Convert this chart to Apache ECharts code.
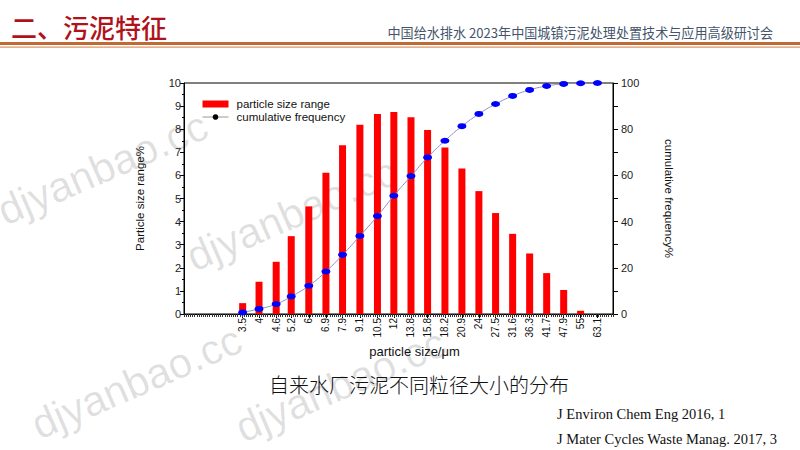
<!DOCTYPE html>
<html>
<head>
<meta charset="utf-8">
<script src="https://cdn.jsdelivr.net/npm/echarts@6/dist/echarts.min.js"></script>
<style>
  html, body { margin: 0; padding: 0; background: #fff; }
  #main { width: 800px; height: 450px; }
</style>
</head>
<body>
<div id="main"></div>
<script>
// particle size bins (um) as printed under the x axis
var sizes = [3.5, 4, 4.6, 5.2, 6, 6.9, 7.9, 9.1, 10.5, 12, 13.8, 15.8, 18.2, 20.9, 24, 27.5, 31.6, 36.3, 41.7, 47.9, 55, 63.1];
// particle size range %, one bar per bin (no bar at 63.1)
var rangePct = [0.47, 1.40, 2.26, 3.37, 4.66, 6.12, 7.31, 8.19, 8.66, 8.75, 8.52, 7.97, 7.21, 6.30, 5.32, 4.37, 3.47, 2.62, 1.77, 1.04, 0.14];
// cumulative frequency %
var cumPct = [0.7, 2.2, 4.3, 7.6, 12.2, 18.4, 25.6, 33.8, 42.4, 51.2, 59.7, 67.8, 75.0, 81.3, 86.6, 90.9, 94.4, 97.0, 98.7, 99.6, 99.9, 100];
var leftTicks = [0, 1, 2, 3, 4, 5, 6, 7, 8, 9, 10];
var rightTicks = [0, 20, 40, 60, 80, 100];

var barData = [];
for (var i = 0; i < rangePct.length; i++) {
    barData.push([sizes[i], rangePct[i]]);
}
var lineData = [];
for (var j = 0; j < cumPct.length; j++) {
    lineData.push([sizes[j], cumPct[j]]);
}

var chart = echarts.init(document.getElementById('main'), null, {renderer: 'svg'});

var axisFont = 'Liberation Sans, Arial, sans-serif';
var cjkFont = '"Noto Sans CJK SC", sans-serif';

function watermark(x, y) {
    return {
        type: 'text',
        x: x,
        y: y,
        rotation: 0.41,
        z: -10,
        silent: true,
        style: {
            text: 'djyanbao.cc',
            fontSize: 42,
            fontFamily: axisFont,
            fill: 'rgba(0,0,0,0.12)',
            textAlign: 'left',
            textVerticalAlign: 'bottom'
        }
    };
}

chart.setOption({
    backgroundColor: '#fff',
    animation: false,
    title: [
        {
            text: '二、污泥特征',
            left: 6, top: 8,
            textStyle: {color: '#b0121b', fontSize: 26, fontWeight: 500, fontFamily: cjkFont}
        },
        {
            text: '中国给水排水 2023年中国城镇污泥处理处置技术与应用高级研讨会',
            right: 22, top: 21,
            textStyle: {color: '#44546a', fontSize: 13.1, fontWeight: 'normal', fontFamily: cjkFont}
        },
        {
            text: '自来水厂污泥不同粒径大小的分布',
            left: 264, top: 369,
            textStyle: {color: '#111', fontSize: 20, fontWeight: 300, fontFamily: cjkFont}
        },
        {
            text: 'J Environ Chem Eng 2016, 1\nJ Mater Cycles Waste Manag. 2017, 3',
            left: 552, top: 396,
            textStyle: {color: '#111', fontSize: 14.5, fontWeight: 'normal', lineHeight: 25, fontFamily: 'Liberation Serif, serif'}
        }
    ],
    graphic: [
        {type: 'rect', shape: {x: 0, y: 42, width: 800, height: 3}, style: {fill: '#bf6a33'}},
        {type: 'rect', shape: {x: 0, y: 46.5, width: 800, height: 1.2}, style: {fill: '#d9956b'}},
        watermark(8, 232),
        watermark(197, 278),
        watermark(42, 446),
        watermark(246, 449)
    ],
    legend: {
        orient: 'vertical',
        left: 197,
        top: 93,
        itemWidth: 26,
        itemHeight: 7,
        itemGap: 1,
        textStyle: {fontSize: 11.5, color: '#111', fontFamily: axisFont, padding: [0, 0, 0, 3]},
        data: [
            {name: 'particle size range', icon: 'rect'},
            {name: 'cumulative frequency', itemStyle: {color: '#000'}, lineStyle: {color: '#999', width: 1}}
        ]
    },
    grid: {
        left: 184, right: 187, top: 83, bottom: 136,
        show: true,
        borderColor: '#000',
        borderWidth: 1,
        containLabel: false
    },
    xAxis: [
        {
            type: 'log',
            logBase: 10,
            min: 2.17,
            max: 71.6,
            name: 'particle size/\u03bcm',
            nameLocation: 'middle',
            nameGap: 24,
            nameTextStyle: {fontSize: 13, color: '#111', fontFamily: axisFont, padding: [0, 0, 0, 32]},
            axisLine: {lineStyle: {color: '#000', width: 1}},
            axisTick: {show: true, customValues: sizes, length: 4, lineStyle: {color: '#000'}},
            axisLabel: {
                customValues: sizes,
                rotate: 90,
                fontSize: 10,
                color: '#111',
                fontFamily: axisFont,
                margin: 4,
                formatter: function (v) { return String(v); }
            },
            splitLine: {show: false},
            minorTick: {show: false}
        },
        {
            // dense hatch of small ticks along the bottom axis
            type: 'value',
            position: 'bottom',
            min: 0,
            max: 200,
            interval: 1,
            axisLine: {show: false},
            axisTick: {show: true, length: 3, lineStyle: {color: '#333', width: 1}},
            axisLabel: {show: false},
            splitLine: {show: false}
        }
    ],
    yAxis: [
        {
            type: 'value',
            min: 0,
            max: 10,
            interval: 1,
            name: 'Particle size range%',
            nameLocation: 'middle',
            nameGap: 38,
            nameTextStyle: {fontSize: 11.5, color: '#111', fontFamily: axisFont},
            axisLine: {show: true, lineStyle: {color: '#000', width: 1}},
            axisTick: {show: true, length: 4, lineStyle: {color: '#000'}},
            minorTick: {show: true, splitNumber: 2, length: 2, lineStyle: {color: '#000'}},
            axisLabel: {
                fontSize: 11, color: '#222', fontFamily: axisFont, margin: 3,
                customValues: leftTicks
            },
            splitLine: {show: false}
        },
        {
            type: 'value',
            position: 'right',
            min: 0,
            max: 100,
            interval: 20,
            name: 'cumulative frequency%',
            nameLocation: 'middle',
            nameRotate: -90,
            nameGap: 50,
            nameTextStyle: {fontSize: 11.5, color: '#111', fontFamily: axisFont},
            axisLine: {show: true, lineStyle: {color: '#000', width: 1}},
            axisTick: {show: true, length: 5, lineStyle: {color: '#000'}},
            minorTick: {show: true, splitNumber: 2, length: 5, lineStyle: {color: '#000'}},
            axisLabel: {
                fontSize: 11, color: '#222', fontFamily: axisFont, margin: 8,
                customValues: rightTicks
            },
            splitLine: {show: false}
        }
    ],
    series: [
        {
            name: 'particle size range',
            type: 'bar',
            xAxisIndex: 0,
            yAxisIndex: 0,
            barWidth: 7,
            itemStyle: {color: '#ff0000'},
            data: barData
        },
        {
            name: 'cumulative frequency',
            type: 'line',
            xAxisIndex: 0,
            yAxisIndex: 1,
            smooth: true,
            symbol: 'circle',
            symbolSize: [9, 6],
            itemStyle: {color: '#0000ff'},
            lineStyle: {color: '#8f8fc4', width: 1},
            z: 3,
            data: lineData
        }
    ]
});
</script>
</body>
</html>
